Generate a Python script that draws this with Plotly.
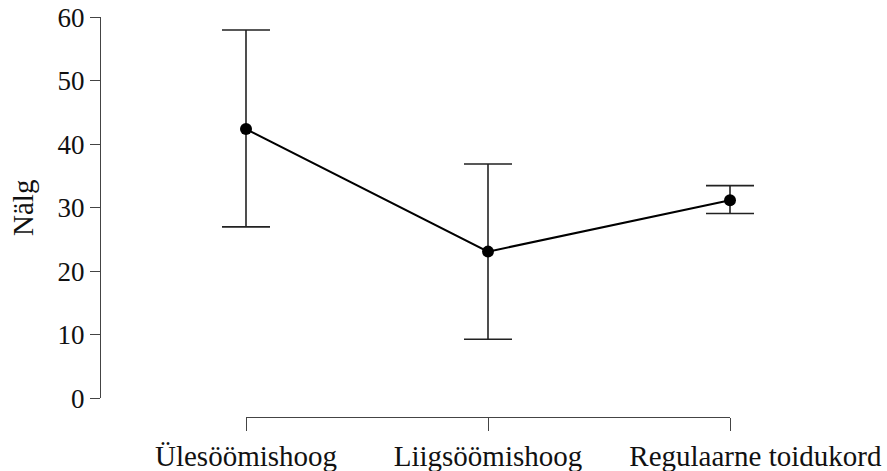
import plotly.graph_objects as go

categories = ["Ülesöömishoog", "Liigsöömishoog", "Regulaarne toidukord"]
means = [42.4, 23.1, 31.2]
upper = [58.0, 36.9, 33.5]
lower = [27.0, 9.3, 29.1]
y_ticks = [0, 10, 20, 30, 40, 50, 60]
y_title = "Nälg"

W, H = 887, 471
OFF = 0  # page body margin removed via post_script
xpos = list(range(len(categories)))
err_plus = [u - m for u, m in zip(upper, means)]
err_minus = [m - l for m, l in zip(means, lower)]

FONT = "Liberation Serif"
AX = "#444444"
TXT = "#111111"


def fx(px):
    return (px - OFF) / W


def fy(py):
    return (H - (py - OFF)) / H


fig = go.Figure()
fig.add_trace(go.Scatter(
    x=xpos, y=means, mode="lines+markers",
    line=dict(color="black", width=2),
    marker=dict(color="black", size=12),
    error_y=dict(type="data", symmetric=False, array=err_plus, arrayminus=err_minus,
                 color="#222222", thickness=1.6, width=24),
    cliponaxis=False, showlegend=False, hoverinfo="skip",
))
# carrier trace for the offset category axis
fig.add_trace(go.Scatter(x=xpos, y=means, xaxis="x2", yaxis="y", mode="markers",
                         marker=dict(opacity=0), showlegend=False, hoverinfo="skip"))

x_left, x_first, x_last = 100, 246, 730
ppu = (x_last - x_first) / (len(categories) - 1)
y0_px, y60_px = 398.3, 17.3
x_axis_px = 417

ticktext = categories[:2] + ["\u00a0" * 7 + categories[2]]

fig.update_layout(
    width=W, height=H, autosize=False,
    margin=dict(l=0, r=0, t=0, b=0, autoexpand=False),
    paper_bgcolor="white", plot_bgcolor="rgba(0,0,0,0)",
    font=dict(family=FONT, size=26, color=TXT),
    xaxis=dict(domain=[fx(x_left), 1],
               range=[-(x_first - x_left) / ppu, (len(categories) - 1) + (W + OFF - x_last) / ppu],
               visible=False, anchor="y", automargin=False),
    xaxis2=dict(domain=[fx(x_first), fx(x_last)], range=[0, len(categories) - 1],
                anchor="free", position=fy(x_axis_px), automargin=False, tickangle=0,
                tickmode="array", tickvals=xpos, ticktext=ticktext,
                showline=True, linecolor=AX, linewidth=1.2,
                ticks="outside", ticklen=13, tickcolor=AX, tickwidth=1.2,
                showgrid=False, zeroline=False, ticklabeloverflow="allow",
                tickfont=dict(family=FONT, size=29, color=TXT)),
    yaxis=dict(domain=[fy(y0_px), fy(y60_px)], range=[0, 60],
               anchor="free", position=fx(x_left), automargin=False,
               tickmode="array", tickvals=y_ticks,
               showline=True, linecolor=AX, linewidth=1.2,
               ticks="outside", ticklen=10, tickcolor=AX, tickwidth=1.2,
               showgrid=False, zeroline=False, ticklabeloverflow="allow",
               tickfont=dict(family=FONT, size=27, color=TXT),
               title=dict(text=y_title, font=dict(family=FONT, size=29, color=TXT), standoff=14)),
)

fig.write_html("out.html", config={"displayModeBar": False},
               post_script="document.body.style.margin='0';document.body.style.overflow='hidden';")
